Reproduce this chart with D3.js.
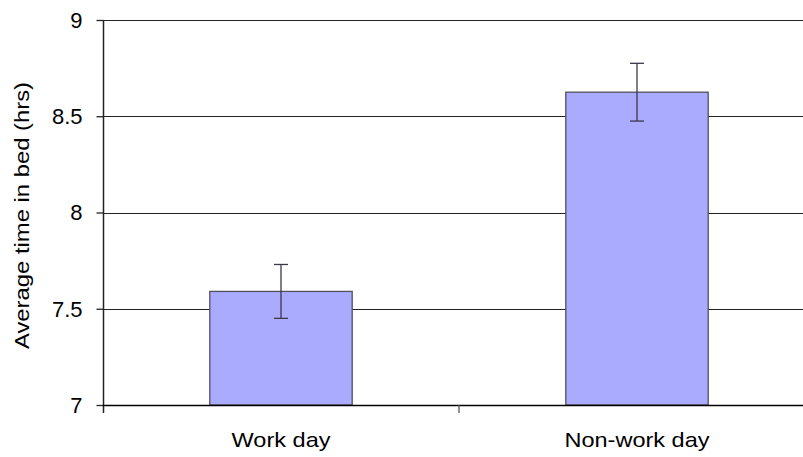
<!DOCTYPE html>
<html>
<head>
<meta charset="utf-8">
<script src="https://cdn.jsdelivr.net/npm/d3@7"></script>
<style>
  body { margin: 0; background: #fff; }
  text { font-family: "Liberation Sans", Arial, sans-serif; fill: #000; }
</style>
</head>
<body>
<div id="chart"></div>
<script>
"use strict";
// data
var categories = ["Work day", "Non-work day"];
var means = [7.59, 8.625];
var errors = [0.14, 0.15];
var yTicks = [7, 7.5, 8, 8.5, 9];

var width = 803, height = 457;
var plotLeft = 103, plotTop = 20, plotBottom = 405,
    plotRight = 815; // plot runs past the window edge

var svg = d3.select("#chart").append("svg")
    .attr("width", width)
    .attr("height", height);

var x = d3.scaleBand().domain(categories).range([plotLeft, plotRight]).paddingInner(0).paddingOuter(0);
var y = d3.scaleLinear().domain([7, 9]).range([plotBottom, plotTop]);
var barW = x.bandwidth() / 2.5;

// gridlines
svg.append("g").selectAll("line")
    .data(yTicks.slice(1))
    .enter().append("line")
    .attr("x1", plotLeft).attr("x2", plotRight)
    .attr("y1", d => Math.round(y(d)) + 0.5)
    .attr("y2", d => Math.round(y(d)) + 0.5)
    .style("stroke", "#222")
    .style("stroke-width", 1);

// bars
svg.append("g").selectAll("rect")
    .data(means)
    .enter().append("rect")
    .attr("x", (d, i) => x(categories[i]) + (x.bandwidth() - barW) / 2)
    .attr("y", d => y(d))
    .attr("width", barW)
    .attr("height", d => plotBottom - y(d))
    .style("fill", "#aaaaff")
    .style("stroke", "#50505f")
    .style("stroke-width", 1.3);

// error bars
var eb = svg.append("g").selectAll("g")
    .data(means)
    .enter().append("g")
    .style("stroke", "#3a3a48")
    .style("stroke-width", 1.3);
var cx = (i) => x(categories[i]) + x.bandwidth() / 2;
eb.append("line")
    .attr("x1", (d, i) => cx(i)).attr("x2", (d, i) => cx(i))
    .attr("y1", (d, i) => y(d + errors[i]))
    .attr("y2", (d, i) => y(d - errors[i]));
eb.append("line")
    .attr("x1", (d, i) => cx(i) - 7).attr("x2", (d, i) => cx(i) + 7)
    .attr("y1", (d, i) => y(d + errors[i]))
    .attr("y2", (d, i) => y(d + errors[i]));
eb.append("line")
    .attr("x1", (d, i) => cx(i) - 7).attr("x2", (d, i) => cx(i) + 7)
    .attr("y1", (d, i) => y(d - errors[i]))
    .attr("y2", (d, i) => y(d - errors[i]));

// y axis
var yAxis = d3.axisLeft(y).tickValues(yTicks).tickSize(7).tickPadding(14)
    .tickFormat(d => d);
var yg = svg.append("g")
    .attr("transform", "translate(" + (plotLeft + 0.5) + ",0)")
    .call(yAxis);
yg.select(".domain").attr("d", "M0," + plotTop + "V" + (plotBottom + 8)).style("stroke", "#222").style("stroke-width", 1.5);
yg.selectAll(".tick line").style("stroke", "#222").style("stroke-width", 1.3);
yg.selectAll("text").style("font-size", "22px").attr("dy", "0.34em");

// x axis
var xAxis = d3.axisBottom(x).tickSize(0).tickPadding(27);
var xg = svg.append("g")
    .attr("transform", "translate(0," + (plotBottom + 0.5) + ")")
    .call(xAxis);
xg.select(".domain").attr("d", "M" + plotLeft + ",0H" + plotRight).style("stroke", "#000").style("stroke-width", 1.5);
var catWidths = [99, 145];
xg.selectAll("text")
    .style("font-size", "21px")
    .attr("textLength", (d, i) => catWidths[i])
    .attr("lengthAdjust", "spacingAndGlyphs");

// category divider ticks
svg.append("g").selectAll("line")
    .data(categories.slice(1))
    .enter().append("line")
    .attr("x1", d => x(d)).attr("x2", d => x(d))
    .attr("y1", plotBottom).attr("y2", plotBottom + 8)
    .style("stroke", "#555")
    .style("stroke-width", 1.3);

// y label
svg.append("text")
    .attr("transform", "translate(29," + 215.5 + ") rotate(-90)")
    .attr("text-anchor", "middle")
    .style("font-size", "21px")
    .attr("textLength", 267)
    .attr("lengthAdjust", "spacingAndGlyphs")
    .text("Average time in bed (hrs)");
</script>
</body>
</html>
